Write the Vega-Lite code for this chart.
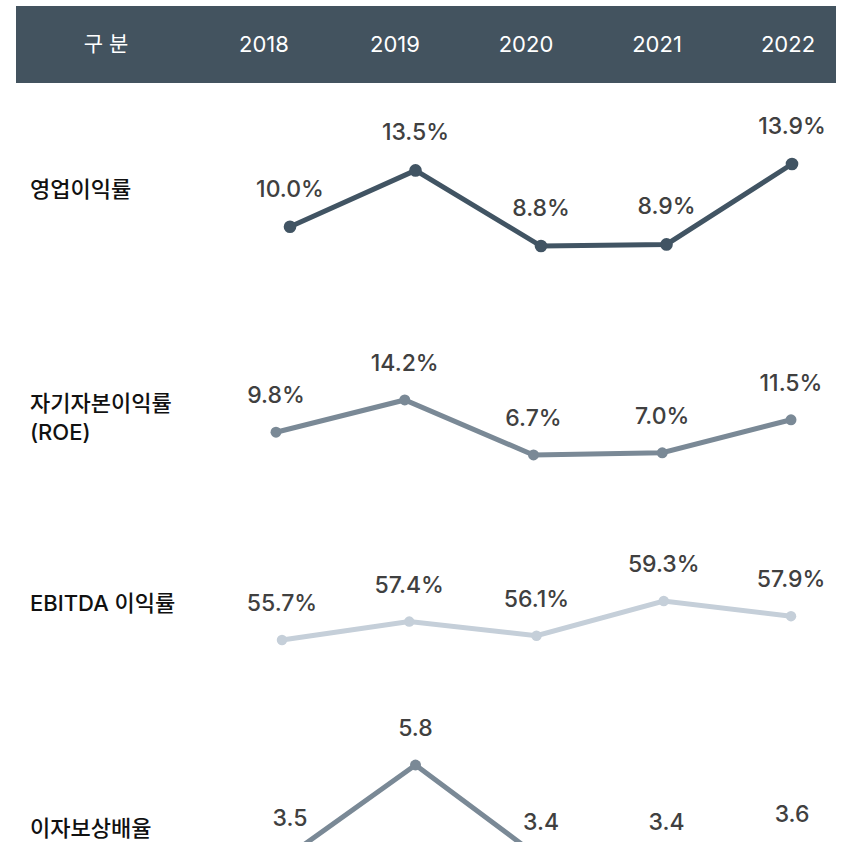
{
  "$schema": "https://vega.github.io/schema/vega-lite/v6.json",
  "width": 852,
  "height": 842,
  "padding": 0,
  "autosize": {"type": "none"},
  "background": "white",
  "config": {"view": {"stroke": null}, "font": "Inter, 'Noto Sans CJK KR'"},
  "datasets": {
    "rows": [
      {"metric": "op", "year": "2018", "value": 10.0, "label": "10.0%"},
      {"metric": "op", "year": "2019", "value": 13.5, "label": "13.5%"},
      {"metric": "op", "year": "2020", "value": 8.8, "label": "8.8%"},
      {"metric": "op", "year": "2021", "value": 8.9, "label": "8.9%"},
      {"metric": "op", "year": "2022", "value": 13.9, "label": "13.9%"},
      {"metric": "roe", "year": "2018", "value": 9.8, "label": "9.8%"},
      {"metric": "roe", "year": "2019", "value": 14.2, "label": "14.2%"},
      {"metric": "roe", "year": "2020", "value": 6.7, "label": "6.7%"},
      {"metric": "roe", "year": "2021", "value": 7.0, "label": "7.0%"},
      {"metric": "roe", "year": "2022", "value": 11.5, "label": "11.5%"},
      {"metric": "ebitda", "year": "2018", "value": 55.7, "label": "55.7%"},
      {"metric": "ebitda", "year": "2019", "value": 57.4, "label": "57.4%"},
      {"metric": "ebitda", "year": "2020", "value": 56.1, "label": "56.1%"},
      {"metric": "ebitda", "year": "2021", "value": 59.3, "label": "59.3%"},
      {"metric": "ebitda", "year": "2022", "value": 57.9, "label": "57.9%"},
      {"metric": "icr", "year": "2018", "value": 3.5, "label": "3.5"},
      {"metric": "icr", "year": "2019", "value": 5.8, "label": "5.8"},
      {"metric": "icr", "year": "2020", "value": 3.4, "label": "3.4"},
      {"metric": "icr", "year": "2021", "value": 3.4, "label": "3.4"},
      {"metric": "icr", "year": "2022", "value": 3.6, "label": "3.6"}
    ],
    "names": [
      {"metric": "op", "name": "영업이익률"},
      {"metric": "roe", "name": "자기자본이익률\n(ROE)"},
      {"metric": "ebitda", "name": "EBITDA 이익률"},
      {"metric": "icr", "name": "이자보상배율"}
    ],
    "header": [
      {"col": "2018"}, {"col": "2019"}, {"col": "2020"}, {"col": "2021"}, {"col": "2022"}
    ]
  },
  "resolve": {"scale": {"x": "independent", "y": "independent"}},
  "layer": [
    {
      "data": {"values": [{"h": "header"}]},
      "mark": {"type": "rect", "color": "#43535f"},
      "encoding": {
        "x": {"field": "h", "type": "nominal", "axis": null, "scale": {"type": "band", "range": [16, 836], "paddingInner": 0, "paddingOuter": 0}},
        "y": {"field": "h", "type": "nominal", "axis": null, "scale": {"type": "band", "range": [6, 83], "paddingInner": 0, "paddingOuter": 0}}
      }
    },
    {
      "data": {"name": "header"},
      "mark": {"type": "text", "color": "white", "fontSize": 22, "baseline": "middle", "align": "center"},
      "encoding": {
        "x": {"field": "col", "type": "ordinal", "axis": null, "scale": {"type": "point", "range": [264, 788], "padding": 0}},
        "y": {"field": "col", "type": "ordinal", "axis": null, "scale": {"type": "point", "range": [45, 45], "padding": 0}},
        "text": {"field": "col"}
      }
    },
    {
      "data": {"values": [{"col": "구 분"}]},
      "mark": {"type": "text", "color": "white", "fontSize": 21, "baseline": "middle", "align": "center"},
      "encoding": {
        "x": {"field": "col", "type": "nominal", "axis": null, "scale": {"type": "point", "range": [106, 106], "padding": 0}},
        "y": {"field": "col", "type": "nominal", "axis": null, "scale": {"type": "point", "range": [45, 45], "padding": 0}},
        "text": {"field": "col"}
      }
    },
    {
      "data": {"name": "names"},
      "transform": [{"filter": "datum.metric === 'op'"}],
      "mark": {"type": "text", "color": "#111111", "fontSize": 22, "fontWeight": 500, "baseline": "middle", "align": "left"},
      "encoding": {
        "x": {"field": "metric", "type": "nominal", "axis": null, "scale": {"type": "point", "range": [30, 30], "padding": 0}},
        "y": {"field": "metric", "type": "nominal", "axis": null, "scale": {"type": "point", "range": [190, 190], "padding": 0}},
        "text": {"field": "name"}
      }
    },
    {
      "data": {"name": "names"},
      "transform": [{"filter": "datum.metric === 'roe'"}],
      "mark": {"type": "text", "color": "#111111", "fontSize": 22, "fontWeight": 500, "baseline": "middle", "align": "left", "lineBreak": "\n", "lineHeight": 29},
      "encoding": {
        "x": {"field": "metric", "type": "nominal", "axis": null, "scale": {"type": "point", "range": [30, 30], "padding": 0}},
        "y": {"field": "metric", "type": "nominal", "axis": null, "scale": {"type": "point", "range": [404, 404], "padding": 0}},
        "text": {"field": "name"}
      }
    },
    {
      "data": {"name": "names"},
      "transform": [{"filter": "datum.metric === 'ebitda'"}],
      "mark": {"type": "text", "color": "#111111", "fontSize": 22, "fontWeight": 500, "baseline": "middle", "align": "left"},
      "encoding": {
        "x": {"field": "metric", "type": "nominal", "axis": null, "scale": {"type": "point", "range": [30, 30], "padding": 0}},
        "y": {"field": "metric", "type": "nominal", "axis": null, "scale": {"type": "point", "range": [604, 604], "padding": 0}},
        "text": {"field": "name"}
      }
    },
    {
      "data": {"name": "names"},
      "transform": [{"filter": "datum.metric === 'icr'"}],
      "mark": {"type": "text", "color": "#111111", "fontSize": 22, "fontWeight": 500, "baseline": "middle", "align": "left"},
      "encoding": {
        "x": {"field": "metric", "type": "nominal", "axis": null, "scale": {"type": "point", "range": [30, 30], "padding": 0}},
        "y": {"field": "metric", "type": "nominal", "axis": null, "scale": {"type": "point", "range": [829, 829], "padding": 0}},
        "text": {"field": "name"}
      }
    },
    {
      "data": {"name": "rows"},
      "transform": [{"filter": "datum.metric === 'op'"}],
      "encoding": {
        "x": {"field": "year", "type": "ordinal", "axis": null, "scale": {"type": "point", "range": [290, 792], "padding": 0}},
        "y": {"field": "value", "type": "quantitative", "axis": null, "scale": {"domain": [8, 15], "range": [258.9, 146.3], "zero": false, "nice": false}}
      },
      "layer": [
        {"mark": {"type": "line", "color": "#415463", "strokeWidth": 5}},
        {"mark": {"type": "point", "filled": true, "opacity": 1, "color": "#415463", "size": 160}},
        {"mark": {"type": "text", "color": "#404040", "fontSize": 23, "fontWeight": 500, "baseline": "middle", "dy": -37}, "encoding": {"text": {"field": "label"}}}
      ]
    },
    {
      "data": {"name": "rows"},
      "transform": [{"filter": "datum.metric === 'roe'"}],
      "encoding": {
        "x": {"field": "year", "type": "ordinal", "axis": null, "scale": {"type": "point", "range": [276, 791], "padding": 0}},
        "y": {"field": "value", "type": "quantitative", "axis": null, "scale": {"domain": [6, 15], "range": [460.1, 394.1], "zero": false, "nice": false}}
      },
      "layer": [
        {"mark": {"type": "line", "color": "#7a8996", "strokeWidth": 5}},
        {"mark": {"type": "point", "filled": true, "opacity": 1, "color": "#7a8996", "size": 120}},
        {"mark": {"type": "text", "color": "#404040", "fontSize": 23, "fontWeight": 500, "baseline": "middle", "dy": -36}, "encoding": {"text": {"field": "label"}}}
      ]
    },
    {
      "data": {"name": "rows"},
      "transform": [{"filter": "datum.metric === 'ebitda'"}],
      "encoding": {
        "x": {"field": "year", "type": "ordinal", "axis": null, "scale": {"type": "point", "range": [282, 791], "padding": 0}},
        "y": {"field": "value", "type": "quantitative", "axis": null, "scale": {"domain": [55, 60], "range": [647.6, 593.4], "zero": false, "nice": false}}
      },
      "layer": [
        {"mark": {"type": "line", "color": "#c5cfd9", "strokeWidth": 5}},
        {"mark": {"type": "point", "filled": true, "opacity": 1, "color": "#c5cfd9", "size": 110}},
        {"mark": {"type": "text", "color": "#404040", "fontSize": 23, "fontWeight": 500, "baseline": "middle", "dy": -36}, "encoding": {"text": {"field": "label"}}}
      ]
    },
    {
      "data": {"name": "rows"},
      "transform": [{"filter": "datum.metric === 'icr'"}],
      "encoding": {
        "x": {"field": "year", "type": "ordinal", "axis": null, "scale": {"type": "point", "range": [290, 792], "padding": 0}},
        "y": {"field": "value", "type": "quantitative", "axis": null, "scale": {"domain": [3, 6], "range": [874.2, 757.2], "zero": false, "nice": false}}
      },
      "layer": [
        {"mark": {"type": "line", "color": "#7a8996", "strokeWidth": 5}},
        {"mark": {"type": "point", "filled": true, "opacity": 1, "color": "#7a8996", "size": 120}},
        {"mark": {"type": "text", "color": "#404040", "fontSize": 23, "fontWeight": 500, "baseline": "middle", "dy": -36}, "encoding": {"text": {"field": "label"}}}
      ]
    }
  ]
}
